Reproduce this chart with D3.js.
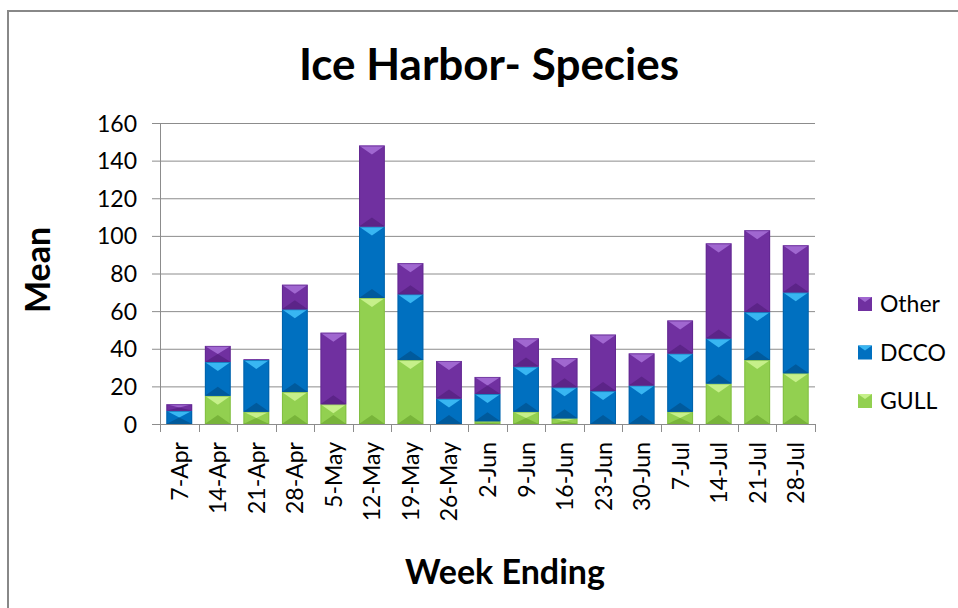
<!DOCTYPE html>
<html lang="en">
<head>
<meta charset="UTF-8">
<title>Ice Harbor- Species</title>
<style>
  body { margin: 0; background: #fff; }
  text { font-family: Lato, "Open Sans", sans-serif; fill: #000; }
</style>
</head>
<body>
<svg width="958" height="608"></svg>
<script src="https://d3js.org/d3.v7.min.js"></script>
<script>

let weeks = ["7-Apr", "14-Apr", "21-Apr", "28-Apr", "5-May", "12-May", "19-May", "26-May",
             "2-Jun", "9-Jun", "16-Jun", "23-Jun", "30-Jun", "7-Jul", "14-Jul", "21-Jul", "28-Jul"];
let gull  = [0, 15, 6.5, 17, 10.5, 67, 34, 0, 1.5, 6.5, 3, 0, 0, 6.5, 21.5, 34, 27];
let dcco  = [7, 18, 27.5, 44, 0, 38, 35, 13.5, 14.5, 24, 16.5, 17.5, 20.5, 31, 24, 25.5, 43];
let other = [3.5, 8.5, 0.5, 13, 38, 43, 16.5, 20, 9, 15, 15.5, 30, 17, 17.5, 50.5, 43.5, 25];
let yTicks = [0, 20, 40, 60, 80, 100, 120, 140, 160];

let series = ["GULL", "DCCO", "Other"];
let colors = {GULL: "#92d050", DCCO: "#0070c0", Other: "#7030a0"};
let lightColors = {GULL: "#c6f08a", DCCO: "#38b6f2", Other: "#a067d0"};
let darkColors = {GULL: "#78b43a", DCCO: "#005a9c", Other: "#5c2488"};

let table = weeks.map((w, i) => ({week: w, GULL: gull[i], DCCO: dcco[i], Other: other[i]}));
let stacked = d3.stack().keys(series)(table);

let svg = d3.select("svg");

// chart frame
svg.append("rect")
    .attr("x", 8).attr("y", 11)
    .attr("width", 1000).attr("height", 700)
    .attr("fill", "#fff")
    .attr("stroke", "#888")
    .attr("stroke-width", 2);

let margin = {top: 123, left: 160},
    width = 655,
    height = 301;

let chart = svg.append("g")
    .attr("transform", "translate(" + margin.left + "," + margin.top + ")");

let xScale = d3.scaleBand()
    .domain(weeks)
    .range([0, width])
    .paddingInner(0.33)
    .paddingOuter(0.165);
let yScale = d3.scaleLinear()
    .domain([0, 160])
    .range([height, 0]);

// gridlines
chart.append("g")
    .selectAll("line")
    .data(yTicks.slice(1))
    .enter()
    .append("line")
    .attr("x1", 0).attr("x2", width)
    .attr("y1", d => yScale(d) + 0.5).attr("y2", d => yScale(d) + 0.5)
    .attr("stroke", "#8c8c8c")
    .attr("stroke-width", 1);

// y axis
let yAxis = chart.append("g")
    .call(d3.axisLeft(yScale).tickValues(yTicks).tickSize(8).tickPadding(15))
    .attr("font-family", null);
yAxis.select(".domain").attr("stroke", "#8c8c8c");
yAxis.selectAll(".tick line").attr("stroke", "#8c8c8c");
yAxis.selectAll(".tick text")
    .style("font-size", "23px")
    .attr("dy", "0.35em");

// x axis: tick marks sit between categories
let xAxisG = chart.append("g")
    .attr("transform", "translate(0," + height + ")");
xAxisG.append("line")
    .attr("x1", 0).attr("x2", width)
    .attr("y1", 0.5).attr("y2", 0.5)
    .attr("stroke", "#8c8c8c");
let bounds = d3.range(weeks.length + 1).map(i => i * width / weeks.length);
xAxisG.selectAll("line.tk")
    .data(bounds)
    .enter()
    .append("line")
    .attr("class", "tk")
    .attr("x1", d => Math.round(d) + 0.5).attr("x2", d => Math.round(d) + 0.5)
    .attr("y1", 0).attr("y2", 8)
    .attr("stroke", "#8c8c8c");
xAxisG.selectAll("text")
    .data(weeks)
    .enter()
    .append("text")
    .attr("transform", d => "translate(" + (xScale(d) + xScale.bandwidth() / 2 + 8.5) + ",18) rotate(-90)")
    .attr("text-anchor", "end")
    .style("font-size", "23px")
    .text(d => d);

// stacked bars with a bevel look
let segs = [];
stacked.forEach(s => {
    s.forEach((d, i) => {
        if (d[1] - d[0] > 0) segs.push({key: s.key, week: weeks[i], y0: d[0], y1: d[1]});
    });
});

let bar = chart.append("g")
    .selectAll("g")
    .data(segs)
    .enter()
    .append("g");

bar.append("rect")
    .attr("x", d => xScale(d.week))
    .attr("y", d => yScale(d.y1))
    .attr("width", xScale.bandwidth())
    .attr("height", d => yScale(d.y0) - yScale(d.y1))
    .attr("fill", d => colors[d.key]);

// top lighter triangle
bar.append("polygon")
    .attr("points", d => {
        let x = xScale(d.week), w = xScale.bandwidth(), t = yScale(d.y1);
        let h = yScale(d.y0) - t, dd = Math.min(9, h / 2);
        return [[x, t], [x + w, t], [x + w / 2, t + dd]].join(" ");
    })
    .attr("fill", d => lightColors[d.key]);

// bottom darker triangle
bar.append("polygon")
    .attr("points", d => {
        let x = xScale(d.week), w = xScale.bandwidth(), b = yScale(d.y0);
        let h = b - yScale(d.y1), dd = Math.min(9, h / 2);
        return [[x, b], [x + w, b], [x + w / 2, b - dd]].join(" ");
    })
    .attr("fill", d => darkColors[d.key]);

bar.append("rect")
    .attr("x", d => xScale(d.week) + 0.5)
    .attr("y", d => yScale(d.y1) + 0.5)
    .attr("width", xScale.bandwidth() - 1)
    .attr("height", d => Math.max(0, yScale(d.y0) - yScale(d.y1) - 1))
    .attr("fill", "none")
    .attr("stroke", d => darkColors[d.key])
    .attr("stroke-opacity", 0.6);

// title
svg.append("text")
    .attr("x", 489).attr("y", 80)
    .attr("text-anchor", "middle")
    .style("font-size", "44px")
    .style("font-weight", "bold")
    .text("Ice Harbor- Species");

// axis titles
svg.append("text")
    .attr("transform", "translate(50,270) rotate(-90)")
    .attr("text-anchor", "middle")
    .style("font-size", "34px")
    .style("font-weight", "bold")
    .text("Mean");

svg.append("text")
    .attr("x", 505).attr("y", 584)
    .attr("text-anchor", "middle")
    .style("font-size", "34px")
    .style("font-weight", "bold")
    .text("Week Ending");

// legend
let legendKeys = ["Other", "DCCO", "GULL"];
let legend = svg.append("g")
    .selectAll("g")
    .data(legendKeys)
    .enter()
    .append("g")
    .attr("transform", (d, i) => "translate(858," + (297 + i * 48.5) + ")");
legend.append("rect")
    .attr("width", 14).attr("height", 14)
    .attr("fill", d => colors[d]);
legend.append("polygon")
    .attr("points", "0,0 14,0 7,5")
    .attr("fill", d => lightColors[d]);
legend.append("text")
    .attr("x", 22).attr("y", 7)
    .attr("dy", "0.35em")
    .style("font-size", "23px")
    .text(d => d);

</script>
</body>
</html>
